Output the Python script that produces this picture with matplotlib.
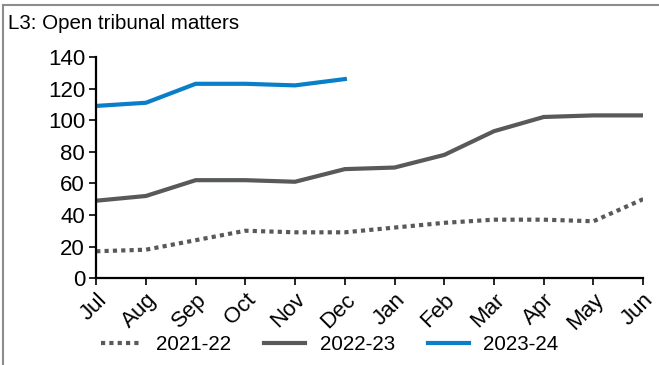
import numpy as np
import matplotlib.pyplot as plt
from matplotlib.lines import Line2D

plt.rcParams['font.family'] = ['Liberation Sans', 'DejaVu Sans']

months = ["Jul", "Aug", "Sep", "Oct", "Nov", "Dec", "Jan", "Feb", "Mar", "Apr", "May", "Jun"]
fy2122 = [17, 18, 24, 30, 29, 29, 32, 35, 37, 37, 36, 50]
fy2223 = [49, 52, 62, 62, 61, 69, 70, 78, 93, 102, 103, 103]
fy2324 = [109, 111, 123, 123, 122, 126]

grey = "#58595b"
blue = "#0a7fc9"

fig = plt.figure(figsize=(6.59, 3.65), dpi=100)
ax = fig.add_axes([0.146, 0.238, 0.83, 0.606])

x = np.arange(len(months))
ax.plot(x, fy2122, color=grey, lw=3.0, linestyle=(0, (1.0, 1.0)), label="2021-22")
ax.plot(x, fy2223, color=grey, lw=3.0, label="2022-23")
ax.plot(x[:len(fy2324)], fy2324, color=blue, lw=3.0, label="2023-24")

ax.set_xlim(0, len(months) - 1)
ax.set_ylim(0, 140)
ax.set_yticks(range(0, 141, 20))
ax.set_xticks(x)
ax.set_xticklabels(months, rotation=45, ha="right", va="top", rotation_mode="anchor")
ax.tick_params(axis="both", labelsize=16, width=1.2, length=5, color="black")
ax.tick_params(axis="x", pad=3)
ax.tick_params(axis="y", pad=3)

for s in ["top", "right"]:
    ax.spines[s].set_visible(False)
for s in ["left", "bottom"]:
    ax.spines[s].set_linewidth(1.6)

fig.text(0.012, 0.935, "L3: Open tribunal matters", fontsize=14.8, ha="left", va="center")

fig.legend(loc="center", bbox_to_anchor=(0.5, 0.055), ncol=3, frameon=False,
           fontsize=14.8, handlelength=2.0, columnspacing=1.6, handletextpad=0.7)

# frame lines at top and left of the figure
fig.add_artist(Line2D([0.005, 0.005], [0, 0.986], color="#8c8c8c", lw=1.5, transform=fig.transFigure))
fig.add_artist(Line2D([0.005, 1], [0.986, 0.986], color="#8c8c8c", lw=1.5, transform=fig.transFigure))

fig.savefig("out.png", dpi=100)
